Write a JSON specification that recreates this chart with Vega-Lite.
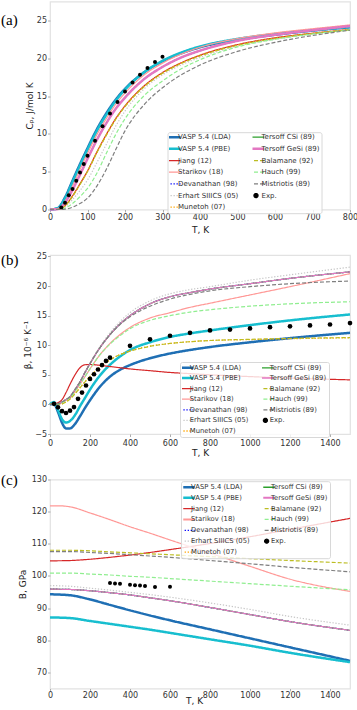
{
"$schema": "https://vega.github.io/schema/vega-lite/v6.json",
"padding": {"left": 0, "top": 0.5, "right": 0, "bottom": 0},
"spacing": 45.5,
"bounds": "flush",
"resolve": {"scale": {"color": "independent", "strokeDash": "independent"}, "legend": {"color": "independent", "strokeDash": "independent"}},
"config": {
  "font": "DejaVu Sans",
  "view": {"stroke": "#e2e2e2", "strokeWidth": 1.2},
  "axis": {"domain": false, "grid": false, "labelFont": "DejaVu Sans", "titleFont": "DejaVu Sans", "labelFontSize": 8, "labelColor": "#333333", "titleFontSize": 9, "titleFontWeight": "normal", "titleColor": "#222222", "tickColor": "#999999", "tickSize": 2.5, "tickWidth": 0.8, "labelPadding": 1, "titlePadding": 2.5, "labelOverlap": false, "labelFlush": false, "tickCount": 30},
  "legend": {"orient": "none", "columns": 2, "symbolType": "stroke", "symbolSize": 256, "symbolOffset": 0, "labelFont": "DejaVu Sans", "labelFontSize": 6.8, "labelColor": "#333333", "labelLimit": 200, "padding": 2, "fillColor": "rgba(255,255,255,0.8)", "strokeColor": "#d8d8d8", "cornerRadius": 2, "clipHeight": 6.8, "rowPadding": 2.6, "columnPadding": 13, "labelOffset": 1}
},
"datasets": {
"a": [
{"m":"VASP 5.4 (LDA)","T":0,"v":0},{"m":"VASP 5.4 (LDA)","T":20,"v":0.15},{"m":"VASP 5.4 (LDA)","T":40,"v":1.6},{"m":"VASP 5.4 (LDA)","T":60,"v":3.8},{"m":"VASP 5.4 (LDA)","T":80,"v":6.0},{"m":"VASP 5.4 (LDA)","T":100,"v":8.1},{"m":"VASP 5.4 (LDA)","T":125,"v":10.6},{"m":"VASP 5.4 (LDA)","T":150,"v":12.7},{"m":"VASP 5.4 (LDA)","T":175,"v":14.5},{"m":"VASP 5.4 (LDA)","T":200,"v":15.95},{"m":"VASP 5.4 (LDA)","T":250,"v":18.1},{"m":"VASP 5.4 (LDA)","T":300,"v":19.6},{"m":"VASP 5.4 (LDA)","T":350,"v":20.65},{"m":"VASP 5.4 (LDA)","T":400,"v":21.45},{"m":"VASP 5.4 (LDA)","T":500,"v":22.45},{"m":"VASP 5.4 (LDA)","T":600,"v":23.1},{"m":"VASP 5.4 (LDA)","T":700,"v":23.65},{"m":"VASP 5.4 (LDA)","T":800,"v":24.1},
{"m":"VASP 5.4 (PBE)","T":0,"v":0},{"m":"VASP 5.4 (PBE)","T":20,"v":0.15},{"m":"VASP 5.4 (PBE)","T":40,"v":1.45},{"m":"VASP 5.4 (PBE)","T":60,"v":3.6},{"m":"VASP 5.4 (PBE)","T":80,"v":5.8},{"m":"VASP 5.4 (PBE)","T":100,"v":7.9},{"m":"VASP 5.4 (PBE)","T":125,"v":10.4},{"m":"VASP 5.4 (PBE)","T":150,"v":12.5},{"m":"VASP 5.4 (PBE)","T":175,"v":14.35},{"m":"VASP 5.4 (PBE)","T":200,"v":15.85},{"m":"VASP 5.4 (PBE)","T":250,"v":18.1},{"m":"VASP 5.4 (PBE)","T":300,"v":19.65},{"m":"VASP 5.4 (PBE)","T":350,"v":20.75},{"m":"VASP 5.4 (PBE)","T":400,"v":21.55},{"m":"VASP 5.4 (PBE)","T":500,"v":22.55},{"m":"VASP 5.4 (PBE)","T":600,"v":23.2},{"m":"VASP 5.4 (PBE)","T":700,"v":23.7},{"m":"VASP 5.4 (PBE)","T":800,"v":24.15},
{"m":"Jiang (12)","T":0,"v":0},{"m":"Jiang (12)","T":20,"v":0.02},{"m":"Jiang (12)","T":40,"v":0.5},{"m":"Jiang (12)","T":60,"v":1.8},{"m":"Jiang (12)","T":80,"v":3.4},{"m":"Jiang (12)","T":100,"v":5.1},{"m":"Jiang (12)","T":125,"v":7.6},{"m":"Jiang (12)","T":150,"v":9.9},{"m":"Jiang (12)","T":175,"v":12.0},{"m":"Jiang (12)","T":200,"v":13.7},{"m":"Jiang (12)","T":250,"v":16.3},{"m":"Jiang (12)","T":300,"v":18.1},{"m":"Jiang (12)","T":350,"v":19.4},{"m":"Jiang (12)","T":400,"v":20.4},{"m":"Jiang (12)","T":500,"v":21.8},{"m":"Jiang (12)","T":600,"v":22.7},{"m":"Jiang (12)","T":700,"v":23.3},{"m":"Jiang (12)","T":800,"v":23.8},
{"m":"Starikov (18)","T":0,"v":0},{"m":"Starikov (18)","T":20,"v":0.05},{"m":"Starikov (18)","T":40,"v":1.1},{"m":"Starikov (18)","T":60,"v":3.1},{"m":"Starikov (18)","T":80,"v":5.3},{"m":"Starikov (18)","T":100,"v":7.4},{"m":"Starikov (18)","T":125,"v":9.9},{"m":"Starikov (18)","T":150,"v":12.0},{"m":"Starikov (18)","T":175,"v":13.9},{"m":"Starikov (18)","T":200,"v":15.4},{"m":"Starikov (18)","T":250,"v":17.75},{"m":"Starikov (18)","T":300,"v":19.35},{"m":"Starikov (18)","T":350,"v":20.55},{"m":"Starikov (18)","T":400,"v":21.45},{"m":"Starikov (18)","T":500,"v":22.6},{"m":"Starikov (18)","T":600,"v":23.35},{"m":"Starikov (18)","T":700,"v":23.9},{"m":"Starikov (18)","T":800,"v":24.4},
{"m":"Devanathan (98)","T":0,"v":0},{"m":"Devanathan (98)","T":20,"v":0.05},{"m":"Devanathan (98)","T":40,"v":0.9},{"m":"Devanathan (98)","T":60,"v":2.6},{"m":"Devanathan (98)","T":80,"v":4.6},{"m":"Devanathan (98)","T":100,"v":6.7},{"m":"Devanathan (98)","T":125,"v":9.2},{"m":"Devanathan (98)","T":150,"v":11.4},{"m":"Devanathan (98)","T":175,"v":13.3},{"m":"Devanathan (98)","T":200,"v":14.8},{"m":"Devanathan (98)","T":250,"v":17.2},{"m":"Devanathan (98)","T":300,"v":18.85},{"m":"Devanathan (98)","T":350,"v":20.1},{"m":"Devanathan (98)","T":400,"v":21.0},{"m":"Devanathan (98)","T":500,"v":22.3},{"m":"Devanathan (98)","T":600,"v":23.1},{"m":"Devanathan (98)","T":700,"v":23.7},{"m":"Devanathan (98)","T":800,"v":24.25},
{"m":"Erhart SIIICS (05)","T":0,"v":0},{"m":"Erhart SIIICS (05)","T":20,"v":0.01},{"m":"Erhart SIIICS (05)","T":40,"v":0.35},{"m":"Erhart SIIICS (05)","T":60,"v":1.3},{"m":"Erhart SIIICS (05)","T":80,"v":2.5},{"m":"Erhart SIIICS (05)","T":100,"v":3.9},{"m":"Erhart SIIICS (05)","T":125,"v":6.2},{"m":"Erhart SIIICS (05)","T":150,"v":8.6},{"m":"Erhart SIIICS (05)","T":175,"v":11.0},{"m":"Erhart SIIICS (05)","T":200,"v":13.0},{"m":"Erhart SIIICS (05)","T":250,"v":15.9},{"m":"Erhart SIIICS (05)","T":300,"v":17.8},{"m":"Erhart SIIICS (05)","T":350,"v":19.1},{"m":"Erhart SIIICS (05)","T":400,"v":20.1},{"m":"Erhart SIIICS (05)","T":500,"v":21.6},{"m":"Erhart SIIICS (05)","T":600,"v":22.5},{"m":"Erhart SIIICS (05)","T":700,"v":23.2},{"m":"Erhart SIIICS (05)","T":800,"v":23.8},
{"m":"Munetoh (07)","T":0,"v":0},{"m":"Munetoh (07)","T":20,"v":0.02},{"m":"Munetoh (07)","T":40,"v":0.5},{"m":"Munetoh (07)","T":60,"v":1.75},{"m":"Munetoh (07)","T":80,"v":3.35},{"m":"Munetoh (07)","T":100,"v":5.05},{"m":"Munetoh (07)","T":125,"v":7.55},{"m":"Munetoh (07)","T":150,"v":9.85},{"m":"Munetoh (07)","T":175,"v":11.95},{"m":"Munetoh (07)","T":200,"v":13.65},{"m":"Munetoh (07)","T":250,"v":16.25},{"m":"Munetoh (07)","T":300,"v":18.05},{"m":"Munetoh (07)","T":350,"v":19.35},{"m":"Munetoh (07)","T":400,"v":20.35},{"m":"Munetoh (07)","T":500,"v":21.75},{"m":"Munetoh (07)","T":600,"v":22.65},{"m":"Munetoh (07)","T":700,"v":23.3},{"m":"Munetoh (07)","T":800,"v":23.8},
{"m":"Tersoff CSi (89)","T":0,"v":0},{"m":"Tersoff CSi (89)","T":20,"v":0.05},{"m":"Tersoff CSi (89)","T":40,"v":0.9},{"m":"Tersoff CSi (89)","T":60,"v":2.6},{"m":"Tersoff CSi (89)","T":80,"v":4.6},{"m":"Tersoff CSi (89)","T":100,"v":6.7},{"m":"Tersoff CSi (89)","T":125,"v":9.2},{"m":"Tersoff CSi (89)","T":150,"v":11.4},{"m":"Tersoff CSi (89)","T":175,"v":13.3},{"m":"Tersoff CSi (89)","T":200,"v":14.8},{"m":"Tersoff CSi (89)","T":250,"v":17.2},{"m":"Tersoff CSi (89)","T":300,"v":18.85},{"m":"Tersoff CSi (89)","T":350,"v":20.1},{"m":"Tersoff CSi (89)","T":400,"v":21.0},{"m":"Tersoff CSi (89)","T":500,"v":22.3},{"m":"Tersoff CSi (89)","T":600,"v":23.1},{"m":"Tersoff CSi (89)","T":700,"v":23.7},{"m":"Tersoff CSi (89)","T":800,"v":24.25},
{"m":"Tersoff GeSi (89)","T":0,"v":0},{"m":"Tersoff GeSi (89)","T":20,"v":0.05},{"m":"Tersoff GeSi (89)","T":40,"v":0.9},{"m":"Tersoff GeSi (89)","T":60,"v":2.6},{"m":"Tersoff GeSi (89)","T":80,"v":4.6},{"m":"Tersoff GeSi (89)","T":100,"v":6.7},{"m":"Tersoff GeSi (89)","T":125,"v":9.2},{"m":"Tersoff GeSi (89)","T":150,"v":11.4},{"m":"Tersoff GeSi (89)","T":175,"v":13.3},{"m":"Tersoff GeSi (89)","T":200,"v":14.8},{"m":"Tersoff GeSi (89)","T":250,"v":17.2},{"m":"Tersoff GeSi (89)","T":300,"v":18.85},{"m":"Tersoff GeSi (89)","T":350,"v":20.1},{"m":"Tersoff GeSi (89)","T":400,"v":21.0},{"m":"Tersoff GeSi (89)","T":500,"v":22.3},{"m":"Tersoff GeSi (89)","T":600,"v":23.1},{"m":"Tersoff GeSi (89)","T":700,"v":23.7},{"m":"Tersoff GeSi (89)","T":800,"v":24.25},
{"m":"Balamane (92)","T":0,"v":0},{"m":"Balamane (92)","T":20,"v":0.02},{"m":"Balamane (92)","T":40,"v":0.45},{"m":"Balamane (92)","T":60,"v":1.7},{"m":"Balamane (92)","T":80,"v":3.3},{"m":"Balamane (92)","T":100,"v":5.0},{"m":"Balamane (92)","T":125,"v":7.5},{"m":"Balamane (92)","T":150,"v":9.8},{"m":"Balamane (92)","T":175,"v":11.9},{"m":"Balamane (92)","T":200,"v":13.6},{"m":"Balamane (92)","T":250,"v":16.2},{"m":"Balamane (92)","T":300,"v":18.0},{"m":"Balamane (92)","T":350,"v":19.3},{"m":"Balamane (92)","T":400,"v":20.3},{"m":"Balamane (92)","T":500,"v":21.7},{"m":"Balamane (92)","T":600,"v":22.6},{"m":"Balamane (92)","T":700,"v":23.25},{"m":"Balamane (92)","T":800,"v":23.75},
{"m":"Hauch (99)","T":0,"v":0},{"m":"Hauch (99)","T":20,"v":0},{"m":"Hauch (99)","T":40,"v":0.2},{"m":"Hauch (99)","T":60,"v":0.8},{"m":"Hauch (99)","T":80,"v":1.7},{"m":"Hauch (99)","T":100,"v":2.8},{"m":"Hauch (99)","T":125,"v":4.8},{"m":"Hauch (99)","T":150,"v":7.4},{"m":"Hauch (99)","T":175,"v":9.9},{"m":"Hauch (99)","T":200,"v":12.0},{"m":"Hauch (99)","T":250,"v":15.0},{"m":"Hauch (99)","T":300,"v":17.0},{"m":"Hauch (99)","T":350,"v":18.6},{"m":"Hauch (99)","T":400,"v":19.8},{"m":"Hauch (99)","T":500,"v":21.5},{"m":"Hauch (99)","T":600,"v":22.5},{"m":"Hauch (99)","T":700,"v":23.2},{"m":"Hauch (99)","T":800,"v":23.75},
{"m":"Mistriotis (89)","T":0,"v":0},{"m":"Mistriotis (89)","T":20,"v":0},{"m":"Mistriotis (89)","T":40,"v":0.05},{"m":"Mistriotis (89)","T":60,"v":0.3},{"m":"Mistriotis (89)","T":80,"v":0.8},{"m":"Mistriotis (89)","T":100,"v":1.5},{"m":"Mistriotis (89)","T":125,"v":3.1},{"m":"Mistriotis (89)","T":150,"v":5.3},{"m":"Mistriotis (89)","T":175,"v":7.9},{"m":"Mistriotis (89)","T":200,"v":10.4},{"m":"Mistriotis (89)","T":250,"v":13.8},{"m":"Mistriotis (89)","T":300,"v":16.1},{"m":"Mistriotis (89)","T":350,"v":17.8},{"m":"Mistriotis (89)","T":400,"v":19.1},{"m":"Mistriotis (89)","T":500,"v":20.9},{"m":"Mistriotis (89)","T":600,"v":22.1},{"m":"Mistriotis (89)","T":700,"v":23.0},{"m":"Mistriotis (89)","T":800,"v":23.7},
{"m":"Exp.","T":30,"v":0.25},{"m":"Exp.","T":40,"v":0.9},{"m":"Exp.","T":50,"v":1.9},{"m":"Exp.","T":60,"v":2.7},{"m":"Exp.","T":70,"v":3.8},{"m":"Exp.","T":80,"v":4.9},{"m":"Exp.","T":90,"v":6.0},{"m":"Exp.","T":100,"v":7.1},{"m":"Exp.","T":120,"v":9.1},{"m":"Exp.","T":140,"v":11.0},{"m":"Exp.","T":160,"v":12.7},{"m":"Exp.","T":180,"v":14.2},{"m":"Exp.","T":200,"v":15.6},{"m":"Exp.","T":220,"v":16.8},{"m":"Exp.","T":240,"v":17.8},{"m":"Exp.","T":260,"v":18.7},{"m":"Exp.","T":280,"v":19.5},{"m":"Exp.","T":300,"v":20.2}
],
"b": [
{"m":"VASP 5.4 (LDA)","T":0,"v":0},{"m":"VASP 5.4 (LDA)","T":20,"v":0.1},{"m":"VASP 5.4 (LDA)","T":40,"v":-1.3},{"m":"VASP 5.4 (LDA)","T":60,"v":-3.1},{"m":"VASP 5.4 (LDA)","T":80,"v":-4.05},{"m":"VASP 5.4 (LDA)","T":100,"v":-4.05},{"m":"VASP 5.4 (LDA)","T":125,"v":-3.3},{"m":"VASP 5.4 (LDA)","T":150,"v":-2.0},{"m":"VASP 5.4 (LDA)","T":175,"v":-0.6},{"m":"VASP 5.4 (LDA)","T":200,"v":0.7},{"m":"VASP 5.4 (LDA)","T":250,"v":3.0},{"m":"VASP 5.4 (LDA)","T":300,"v":4.7},{"m":"VASP 5.4 (LDA)","T":350,"v":5.85},{"m":"VASP 5.4 (LDA)","T":400,"v":6.65},{"m":"VASP 5.4 (LDA)","T":500,"v":7.8},{"m":"VASP 5.4 (LDA)","T":600,"v":8.6},{"m":"VASP 5.4 (LDA)","T":700,"v":9.2},{"m":"VASP 5.4 (LDA)","T":800,"v":9.7},{"m":"VASP 5.4 (LDA)","T":1000,"v":10.5},{"m":"VASP 5.4 (LDA)","T":1200,"v":11.2},{"m":"VASP 5.4 (LDA)","T":1500,"v":12.1},
{"m":"VASP 5.4 (PBE)","T":0,"v":0},{"m":"VASP 5.4 (PBE)","T":20,"v":0.4},{"m":"VASP 5.4 (PBE)","T":40,"v":-0.9},{"m":"VASP 5.4 (PBE)","T":60,"v":-2.5},{"m":"VASP 5.4 (PBE)","T":80,"v":-3.05},{"m":"VASP 5.4 (PBE)","T":100,"v":-2.8},{"m":"VASP 5.4 (PBE)","T":125,"v":-1.8},{"m":"VASP 5.4 (PBE)","T":150,"v":-0.3},{"m":"VASP 5.4 (PBE)","T":175,"v":1.1},{"m":"VASP 5.4 (PBE)","T":200,"v":2.5},{"m":"VASP 5.4 (PBE)","T":250,"v":4.9},{"m":"VASP 5.4 (PBE)","T":300,"v":6.7},{"m":"VASP 5.4 (PBE)","T":350,"v":8.1},{"m":"VASP 5.4 (PBE)","T":400,"v":9.2},{"m":"VASP 5.4 (PBE)","T":500,"v":10.5},{"m":"VASP 5.4 (PBE)","T":600,"v":11.4},{"m":"VASP 5.4 (PBE)","T":700,"v":12.0},{"m":"VASP 5.4 (PBE)","T":800,"v":12.5},{"m":"VASP 5.4 (PBE)","T":1000,"v":13.4},{"m":"VASP 5.4 (PBE)","T":1200,"v":14.2},{"m":"VASP 5.4 (PBE)","T":1500,"v":15.2},
{"m":"Jiang (12)","T":0,"v":0},{"m":"Jiang (12)","T":20,"v":0.1},{"m":"Jiang (12)","T":40,"v":0.3},{"m":"Jiang (12)","T":60,"v":0.8},{"m":"Jiang (12)","T":80,"v":2.0},{"m":"Jiang (12)","T":100,"v":3.4},{"m":"Jiang (12)","T":125,"v":5.0},{"m":"Jiang (12)","T":150,"v":6.2},{"m":"Jiang (12)","T":175,"v":6.7},{"m":"Jiang (12)","T":200,"v":6.75},{"m":"Jiang (12)","T":250,"v":6.6},{"m":"Jiang (12)","T":300,"v":6.4},{"m":"Jiang (12)","T":350,"v":6.2},{"m":"Jiang (12)","T":400,"v":6.0},{"m":"Jiang (12)","T":500,"v":5.7},{"m":"Jiang (12)","T":600,"v":5.4},{"m":"Jiang (12)","T":700,"v":5.2},{"m":"Jiang (12)","T":800,"v":5.0},{"m":"Jiang (12)","T":1000,"v":4.7},{"m":"Jiang (12)","T":1200,"v":4.45},{"m":"Jiang (12)","T":1500,"v":4.15},
{"m":"Starikov (18)","T":0,"v":0},{"m":"Starikov (18)","T":20,"v":0},{"m":"Starikov (18)","T":40,"v":0.05},{"m":"Starikov (18)","T":60,"v":0.3},{"m":"Starikov (18)","T":80,"v":0.7},{"m":"Starikov (18)","T":100,"v":1.1},{"m":"Starikov (18)","T":125,"v":2.2},{"m":"Starikov (18)","T":150,"v":3.4},{"m":"Starikov (18)","T":175,"v":4.7},{"m":"Starikov (18)","T":200,"v":6.0},{"m":"Starikov (18)","T":250,"v":8.4},{"m":"Starikov (18)","T":300,"v":10.3},{"m":"Starikov (18)","T":350,"v":11.8},{"m":"Starikov (18)","T":400,"v":13.0},{"m":"Starikov (18)","T":500,"v":14.6},{"m":"Starikov (18)","T":600,"v":15.5},{"m":"Starikov (18)","T":700,"v":16.4},{"m":"Starikov (18)","T":800,"v":17.1},{"m":"Starikov (18)","T":1000,"v":18.5},{"m":"Starikov (18)","T":1200,"v":19.9},{"m":"Starikov (18)","T":1500,"v":22.1},
{"m":"Devanathan (98)","T":0,"v":0},{"m":"Devanathan (98)","T":20,"v":0},{"m":"Devanathan (98)","T":40,"v":0.1},{"m":"Devanathan (98)","T":60,"v":0.4},{"m":"Devanathan (98)","T":80,"v":0.8},{"m":"Devanathan (98)","T":100,"v":1.3},{"m":"Devanathan (98)","T":125,"v":2.5},{"m":"Devanathan (98)","T":150,"v":3.8},{"m":"Devanathan (98)","T":175,"v":5.4},{"m":"Devanathan (98)","T":200,"v":6.9},{"m":"Devanathan (98)","T":250,"v":9.6},{"m":"Devanathan (98)","T":300,"v":11.8},{"m":"Devanathan (98)","T":350,"v":13.6},{"m":"Devanathan (98)","T":400,"v":15.0},{"m":"Devanathan (98)","T":500,"v":17.0},{"m":"Devanathan (98)","T":600,"v":18.2},{"m":"Devanathan (98)","T":700,"v":18.9},{"m":"Devanathan (98)","T":800,"v":19.5},{"m":"Devanathan (98)","T":1000,"v":20.4},{"m":"Devanathan (98)","T":1200,"v":21.3},{"m":"Devanathan (98)","T":1500,"v":22.4},
{"m":"Erhart SIIICS (05)","T":0,"v":0},{"m":"Erhart SIIICS (05)","T":20,"v":0},{"m":"Erhart SIIICS (05)","T":40,"v":0.1},{"m":"Erhart SIIICS (05)","T":60,"v":0.4},{"m":"Erhart SIIICS (05)","T":80,"v":0.8},{"m":"Erhart SIIICS (05)","T":100,"v":1.3},{"m":"Erhart SIIICS (05)","T":125,"v":2.5},{"m":"Erhart SIIICS (05)","T":150,"v":3.9},{"m":"Erhart SIIICS (05)","T":175,"v":5.5},{"m":"Erhart SIIICS (05)","T":200,"v":7.0},{"m":"Erhart SIIICS (05)","T":250,"v":9.8},{"m":"Erhart SIIICS (05)","T":300,"v":12.1},{"m":"Erhart SIIICS (05)","T":350,"v":14.0},{"m":"Erhart SIIICS (05)","T":400,"v":15.5},{"m":"Erhart SIIICS (05)","T":500,"v":17.5},{"m":"Erhart SIIICS (05)","T":600,"v":18.7},{"m":"Erhart SIIICS (05)","T":700,"v":19.4},{"m":"Erhart SIIICS (05)","T":800,"v":19.9},{"m":"Erhart SIIICS (05)","T":1000,"v":21.0},{"m":"Erhart SIIICS (05)","T":1200,"v":21.9},{"m":"Erhart SIIICS (05)","T":1500,"v":23.2},
{"m":"Munetoh (07)","T":0,"v":0},{"m":"Munetoh (07)","T":20,"v":0},{"m":"Munetoh (07)","T":40,"v":0},{"m":"Munetoh (07)","T":60,"v":0.1},{"m":"Munetoh (07)","T":80,"v":0.45},{"m":"Munetoh (07)","T":100,"v":0.95},{"m":"Munetoh (07)","T":125,"v":1.85},{"m":"Munetoh (07)","T":150,"v":2.85},{"m":"Munetoh (07)","T":175,"v":3.85},{"m":"Munetoh (07)","T":200,"v":4.75},{"m":"Munetoh (07)","T":250,"v":6.35},{"m":"Munetoh (07)","T":300,"v":7.55},{"m":"Munetoh (07)","T":350,"v":8.45},{"m":"Munetoh (07)","T":400,"v":9.05},{"m":"Munetoh (07)","T":500,"v":9.85},{"m":"Munetoh (07)","T":600,"v":10.3},{"m":"Munetoh (07)","T":700,"v":10.6},{"m":"Munetoh (07)","T":800,"v":10.8},{"m":"Munetoh (07)","T":1000,"v":10.95},{"m":"Munetoh (07)","T":1200,"v":11.1},{"m":"Munetoh (07)","T":1500,"v":11.25},
{"m":"Tersoff CSi (89)","T":0,"v":0},{"m":"Tersoff CSi (89)","T":20,"v":0},{"m":"Tersoff CSi (89)","T":40,"v":0.1},{"m":"Tersoff CSi (89)","T":60,"v":0.4},{"m":"Tersoff CSi (89)","T":80,"v":0.8},{"m":"Tersoff CSi (89)","T":100,"v":1.3},{"m":"Tersoff CSi (89)","T":125,"v":2.5},{"m":"Tersoff CSi (89)","T":150,"v":3.8},{"m":"Tersoff CSi (89)","T":175,"v":5.4},{"m":"Tersoff CSi (89)","T":200,"v":6.9},{"m":"Tersoff CSi (89)","T":250,"v":9.6},{"m":"Tersoff CSi (89)","T":300,"v":11.8},{"m":"Tersoff CSi (89)","T":350,"v":13.6},{"m":"Tersoff CSi (89)","T":400,"v":15.0},{"m":"Tersoff CSi (89)","T":500,"v":17.0},{"m":"Tersoff CSi (89)","T":600,"v":18.2},{"m":"Tersoff CSi (89)","T":700,"v":18.9},{"m":"Tersoff CSi (89)","T":800,"v":19.5},{"m":"Tersoff CSi (89)","T":1000,"v":20.4},{"m":"Tersoff CSi (89)","T":1200,"v":21.3},{"m":"Tersoff CSi (89)","T":1500,"v":22.4},
{"m":"Tersoff GeSi (89)","T":0,"v":0},{"m":"Tersoff GeSi (89)","T":20,"v":0},{"m":"Tersoff GeSi (89)","T":40,"v":0.1},{"m":"Tersoff GeSi (89)","T":60,"v":0.4},{"m":"Tersoff GeSi (89)","T":80,"v":0.8},{"m":"Tersoff GeSi (89)","T":100,"v":1.3},{"m":"Tersoff GeSi (89)","T":125,"v":2.5},{"m":"Tersoff GeSi (89)","T":150,"v":3.8},{"m":"Tersoff GeSi (89)","T":175,"v":5.4},{"m":"Tersoff GeSi (89)","T":200,"v":6.9},{"m":"Tersoff GeSi (89)","T":250,"v":9.6},{"m":"Tersoff GeSi (89)","T":300,"v":11.8},{"m":"Tersoff GeSi (89)","T":350,"v":13.6},{"m":"Tersoff GeSi (89)","T":400,"v":15.0},{"m":"Tersoff GeSi (89)","T":500,"v":17.0},{"m":"Tersoff GeSi (89)","T":600,"v":18.2},{"m":"Tersoff GeSi (89)","T":700,"v":18.9},{"m":"Tersoff GeSi (89)","T":800,"v":19.5},{"m":"Tersoff GeSi (89)","T":1000,"v":20.4},{"m":"Tersoff GeSi (89)","T":1200,"v":21.3},{"m":"Tersoff GeSi (89)","T":1500,"v":22.4},
{"m":"Balamane (92)","T":0,"v":0},{"m":"Balamane (92)","T":20,"v":0},{"m":"Balamane (92)","T":40,"v":0},{"m":"Balamane (92)","T":60,"v":0.1},{"m":"Balamane (92)","T":80,"v":0.4},{"m":"Balamane (92)","T":100,"v":0.9},{"m":"Balamane (92)","T":125,"v":1.8},{"m":"Balamane (92)","T":150,"v":2.8},{"m":"Balamane (92)","T":175,"v":3.8},{"m":"Balamane (92)","T":200,"v":4.7},{"m":"Balamane (92)","T":250,"v":6.3},{"m":"Balamane (92)","T":300,"v":7.5},{"m":"Balamane (92)","T":350,"v":8.4},{"m":"Balamane (92)","T":400,"v":9.0},{"m":"Balamane (92)","T":500,"v":9.8},{"m":"Balamane (92)","T":600,"v":10.3},{"m":"Balamane (92)","T":700,"v":10.6},{"m":"Balamane (92)","T":800,"v":10.8},{"m":"Balamane (92)","T":1000,"v":11.0},{"m":"Balamane (92)","T":1200,"v":11.15},{"m":"Balamane (92)","T":1500,"v":11.3},
{"m":"Hauch (99)","T":0,"v":0},{"m":"Hauch (99)","T":20,"v":0},{"m":"Hauch (99)","T":40,"v":0.05},{"m":"Hauch (99)","T":60,"v":0.3},{"m":"Hauch (99)","T":80,"v":0.7},{"m":"Hauch (99)","T":100,"v":1.1},{"m":"Hauch (99)","T":125,"v":2.2},{"m":"Hauch (99)","T":150,"v":3.4},{"m":"Hauch (99)","T":175,"v":4.7},{"m":"Hauch (99)","T":200,"v":6.0},{"m":"Hauch (99)","T":250,"v":8.4},{"m":"Hauch (99)","T":300,"v":10.2},{"m":"Hauch (99)","T":350,"v":11.6},{"m":"Hauch (99)","T":400,"v":12.8},{"m":"Hauch (99)","T":500,"v":14.2},{"m":"Hauch (99)","T":600,"v":15.0},{"m":"Hauch (99)","T":700,"v":15.6},{"m":"Hauch (99)","T":800,"v":16.0},{"m":"Hauch (99)","T":1000,"v":16.6},{"m":"Hauch (99)","T":1200,"v":17.0},{"m":"Hauch (99)","T":1500,"v":17.35},
{"m":"Mistriotis (89)","T":0,"v":0},{"m":"Mistriotis (89)","T":20,"v":0},{"m":"Mistriotis (89)","T":40,"v":0.1},{"m":"Mistriotis (89)","T":60,"v":0.4},{"m":"Mistriotis (89)","T":80,"v":0.8},{"m":"Mistriotis (89)","T":100,"v":1.3},{"m":"Mistriotis (89)","T":125,"v":2.5},{"m":"Mistriotis (89)","T":150,"v":3.8},{"m":"Mistriotis (89)","T":175,"v":5.4},{"m":"Mistriotis (89)","T":200,"v":6.9},{"m":"Mistriotis (89)","T":250,"v":9.6},{"m":"Mistriotis (89)","T":300,"v":11.8},{"m":"Mistriotis (89)","T":350,"v":13.5},{"m":"Mistriotis (89)","T":400,"v":14.8},{"m":"Mistriotis (89)","T":500,"v":16.6},{"m":"Mistriotis (89)","T":600,"v":17.8},{"m":"Mistriotis (89)","T":700,"v":18.6},{"m":"Mistriotis (89)","T":800,"v":19.2},{"m":"Mistriotis (89)","T":1000,"v":19.9},{"m":"Mistriotis (89)","T":1200,"v":20.4},{"m":"Mistriotis (89)","T":1500,"v":20.85},
{"m":"Exp.","T":20,"v":0.1},{"m":"Exp.","T":40,"v":-0.5},{"m":"Exp.","T":60,"v":-1.15},{"m":"Exp.","T":80,"v":-1.45},{"m":"Exp.","T":100,"v":-1.05},{"m":"Exp.","T":120,"v":-0.45},{"m":"Exp.","T":140,"v":0.95},{"m":"Exp.","T":160,"v":2.0},{"m":"Exp.","T":180,"v":3.2},{"m":"Exp.","T":200,"v":4.3},{"m":"Exp.","T":220,"v":5.1},{"m":"Exp.","T":240,"v":5.9},{"m":"Exp.","T":260,"v":6.65},{"m":"Exp.","T":280,"v":7.35},{"m":"Exp.","T":300,"v":7.9},{"m":"Exp.","T":400,"v":9.9},{"m":"Exp.","T":500,"v":11.0},{"m":"Exp.","T":600,"v":11.6},{"m":"Exp.","T":700,"v":12.1},{"m":"Exp.","T":800,"v":12.5},{"m":"Exp.","T":900,"v":12.65},{"m":"Exp.","T":1000,"v":12.85},{"m":"Exp.","T":1100,"v":13.05},{"m":"Exp.","T":1200,"v":13.2},{"m":"Exp.","T":1300,"v":13.35},{"m":"Exp.","T":1400,"v":13.5},{"m":"Exp.","T":1500,"v":13.75}
],
"c": [
{"m":"VASP 5.4 (LDA)","T":0,"v":94.3},{"m":"VASP 5.4 (LDA)","T":100,"v":94.0},{"m":"VASP 5.4 (LDA)","T":200,"v":92.7},{"m":"VASP 5.4 (LDA)","T":300,"v":91.0},{"m":"VASP 5.4 (LDA)","T":400,"v":89.3},{"m":"VASP 5.4 (LDA)","T":500,"v":87.7},{"m":"VASP 5.4 (LDA)","T":600,"v":86.2},{"m":"VASP 5.4 (LDA)","T":800,"v":83.4},{"m":"VASP 5.4 (LDA)","T":1000,"v":80.6},{"m":"VASP 5.4 (LDA)","T":1200,"v":77.8},{"m":"VASP 5.4 (LDA)","T":1500,"v":73.6},
{"m":"VASP 5.4 (PBE)","T":0,"v":87.1},{"m":"VASP 5.4 (PBE)","T":100,"v":86.9},{"m":"VASP 5.4 (PBE)","T":200,"v":86.0},{"m":"VASP 5.4 (PBE)","T":300,"v":85.1},{"m":"VASP 5.4 (PBE)","T":400,"v":84.2},{"m":"VASP 5.4 (PBE)","T":500,"v":83.3},{"m":"VASP 5.4 (PBE)","T":600,"v":82.3},{"m":"VASP 5.4 (PBE)","T":800,"v":80.3},{"m":"VASP 5.4 (PBE)","T":1000,"v":78.3},{"m":"VASP 5.4 (PBE)","T":1200,"v":76.1},{"m":"VASP 5.4 (PBE)","T":1500,"v":73.2},
{"m":"Jiang (12)","T":0,"v":104.7},{"m":"Jiang (12)","T":100,"v":104.8},{"m":"Jiang (12)","T":200,"v":105.2},{"m":"Jiang (12)","T":300,"v":105.8},{"m":"Jiang (12)","T":400,"v":106.5},{"m":"Jiang (12)","T":500,"v":107.3},{"m":"Jiang (12)","T":600,"v":108.2},{"m":"Jiang (12)","T":800,"v":110.1},{"m":"Jiang (12)","T":1000,"v":112.2},{"m":"Jiang (12)","T":1200,"v":114.5},{"m":"Jiang (12)","T":1500,"v":117.9},
{"m":"Starikov (18)","T":0,"v":121.8},{"m":"Starikov (18)","T":50,"v":121.8},{"m":"Starikov (18)","T":100,"v":121.5},{"m":"Starikov (18)","T":200,"v":119.6},{"m":"Starikov (18)","T":300,"v":117.5},{"m":"Starikov (18)","T":400,"v":115.3},{"m":"Starikov (18)","T":500,"v":113.3},{"m":"Starikov (18)","T":600,"v":111.2},{"m":"Starikov (18)","T":800,"v":107.1},{"m":"Starikov (18)","T":1000,"v":103.0},{"m":"Starikov (18)","T":1200,"v":99.0},{"m":"Starikov (18)","T":1500,"v":95.2},
{"m":"Devanathan (98)","T":0,"v":95.9},{"m":"Devanathan (98)","T":100,"v":95.8},{"m":"Devanathan (98)","T":200,"v":95.4},{"m":"Devanathan (98)","T":300,"v":94.8},{"m":"Devanathan (98)","T":400,"v":94.1},{"m":"Devanathan (98)","T":500,"v":93.2},{"m":"Devanathan (98)","T":600,"v":92.3},{"m":"Devanathan (98)","T":800,"v":90.2},{"m":"Devanathan (98)","T":1000,"v":88.0},{"m":"Devanathan (98)","T":1200,"v":85.8},{"m":"Devanathan (98)","T":1500,"v":83.1},
{"m":"Erhart SIIICS (05)","T":0,"v":97.0},{"m":"Erhart SIIICS (05)","T":100,"v":96.8},{"m":"Erhart SIIICS (05)","T":200,"v":96.2},{"m":"Erhart SIIICS (05)","T":300,"v":95.6},{"m":"Erhart SIIICS (05)","T":400,"v":94.9},{"m":"Erhart SIIICS (05)","T":500,"v":94.2},{"m":"Erhart SIIICS (05)","T":600,"v":93.4},{"m":"Erhart SIIICS (05)","T":800,"v":91.6},{"m":"Erhart SIIICS (05)","T":1000,"v":89.6},{"m":"Erhart SIIICS (05)","T":1200,"v":87.4},{"m":"Erhart SIIICS (05)","T":1500,"v":84.7},
{"m":"Tersoff CSi (89)","T":0,"v":95.9},{"m":"Tersoff CSi (89)","T":100,"v":95.8},{"m":"Tersoff CSi (89)","T":200,"v":95.4},{"m":"Tersoff CSi (89)","T":300,"v":94.8},{"m":"Tersoff CSi (89)","T":400,"v":94.1},{"m":"Tersoff CSi (89)","T":500,"v":93.2},{"m":"Tersoff CSi (89)","T":600,"v":92.3},{"m":"Tersoff CSi (89)","T":800,"v":90.2},{"m":"Tersoff CSi (89)","T":1000,"v":88.0},{"m":"Tersoff CSi (89)","T":1200,"v":85.8},{"m":"Tersoff CSi (89)","T":1500,"v":83.1},
{"m":"Tersoff GeSi (89)","T":0,"v":95.9},{"m":"Tersoff GeSi (89)","T":100,"v":95.8},{"m":"Tersoff GeSi (89)","T":200,"v":95.4},{"m":"Tersoff GeSi (89)","T":300,"v":94.8},{"m":"Tersoff GeSi (89)","T":400,"v":94.1},{"m":"Tersoff GeSi (89)","T":500,"v":93.2},{"m":"Tersoff GeSi (89)","T":600,"v":92.3},{"m":"Tersoff GeSi (89)","T":800,"v":90.2},{"m":"Tersoff GeSi (89)","T":1000,"v":88.0},{"m":"Tersoff GeSi (89)","T":1200,"v":85.8},{"m":"Tersoff GeSi (89)","T":1500,"v":83.1},
{"m":"Balamane (92)","T":0,"v":108.0},{"m":"Balamane (92)","T":100,"v":108.0},{"m":"Balamane (92)","T":200,"v":107.8},{"m":"Balamane (92)","T":300,"v":107.5},{"m":"Balamane (92)","T":400,"v":107.2},{"m":"Balamane (92)","T":500,"v":106.9},{"m":"Balamane (92)","T":600,"v":106.6},{"m":"Balamane (92)","T":800,"v":106.0},{"m":"Balamane (92)","T":1000,"v":105.4},{"m":"Balamane (92)","T":1200,"v":104.8},{"m":"Balamane (92)","T":1500,"v":104.0},
{"m":"Hauch (99)","T":0,"v":100.9},{"m":"Hauch (99)","T":100,"v":100.9},{"m":"Hauch (99)","T":200,"v":100.6},{"m":"Hauch (99)","T":300,"v":100.3},{"m":"Hauch (99)","T":400,"v":99.9},{"m":"Hauch (99)","T":500,"v":99.6},{"m":"Hauch (99)","T":600,"v":99.2},{"m":"Hauch (99)","T":800,"v":98.4},{"m":"Hauch (99)","T":1000,"v":97.6},{"m":"Hauch (99)","T":1200,"v":96.8},{"m":"Hauch (99)","T":1500,"v":95.7},
{"m":"Mistriotis (89)","T":0,"v":107.6},{"m":"Mistriotis (89)","T":100,"v":107.6},{"m":"Mistriotis (89)","T":200,"v":107.3},{"m":"Mistriotis (89)","T":300,"v":107.0},{"m":"Mistriotis (89)","T":400,"v":106.6},{"m":"Mistriotis (89)","T":500,"v":106.2},{"m":"Mistriotis (89)","T":600,"v":105.8},{"m":"Mistriotis (89)","T":800,"v":104.8},{"m":"Mistriotis (89)","T":1000,"v":103.8},{"m":"Mistriotis (89)","T":1200,"v":102.7},{"m":"Mistriotis (89)","T":1500,"v":101.3},
{"m":"Exp.","T":300,"v":97.8},{"m":"Exp.","T":325,"v":97.65},{"m":"Exp.","T":350,"v":97.55},{"m":"Exp.","T":400,"v":97.25},{"m":"Exp.","T":425,"v":97.15},{"m":"Exp.","T":450,"v":97.05},{"m":"Exp.","T":475,"v":96.9},{"m":"Exp.","T":525,"v":96.55},{"m":"Exp.","T":600,"v":96.65}
]
},
"vconcat": [
{
  "title": {"text": "(a)", "anchor": "start", "frame": "group", "orient": "top", "font": "Liberation Serif", "fontSize": 15, "fontWeight": "normal", "color": "#000000", "baseline": "middle", "offset": 0, "dx": -49, "dy": 33},
  "width": 300, "height": 208,
  "data": {"name": "a"},
  "layer": [
    {"transform": [{"filter": "datum.m !== 'Exp.'"}],
     "mark": {"type": "line", "interpolate": "monotone"},
     "encoding": {
       "x": {"field": "T", "type": "quantitative", "scale": {"domain": [0, 800], "nice": false}, "axis": {"values": [0,100,200,300,400,500,600,700,800], "tickCount": 30, "format": "d", "labelOverlap": false, "title": "T, K", "labelPadding": 1.3, "titlePadding": 4}},
       "y": {"field": "v", "type": "quantitative", "scale": {"domain": [0, 27.5], "nice": false, "zero": false}, "axis": {"values": [0,5,10,15,20,25], "tickCount": 30, "format": "d", "labelOverlap": false, "title": "Cₚ, J/mol K", "titlePadding": 2}},
       "color": {"field": "m", "type": "nominal",
         "scale": {"domain": ["VASP 5.4 (LDA)","VASP 5.4 (PBE)","Jiang (12)","Starikov (18)","Devanathan (98)","Erhart SIIICS (05)","Munetoh (07)","Tersoff CSi (89)","Tersoff GeSi (89)","Balamane (92)","Hauch (99)","Mistriotis (89)","Exp."],
                   "range": ["#1f6fb4","#17becf","#d62728","#ff9896","#0000ff","#c7c7c7","#ffa500","#2ca02c","#e377c2","#bcbd22","#90ee90","#7f7f7f","#000000"]},
         "legend": {"title": null, "legendX": 117.5, "legendY": 130.7, "labelFontSize": 7, "clipHeight": 7, "rowPadding": 3.67, "padding": 1.5, "labelOffset": 2, "columnPadding": 13.5,
           "encode": {"symbols": {"update": {
             "shape": {"signal": "datum.value === 'Exp.' ? 'circle' : 'stroke'"},
             "size": {"signal": "datum.value === 'Exp.' ? 16 : 256"},
             "fill": {"signal": "datum.value === 'Exp.' ? '#000000' : 'transparent'"},
             "strokeWidth": {"signal": "indexof(['VASP 5.4 (LDA)','VASP 5.4 (PBE)','Tersoff GeSi (89)'], datum.value) >= 0 ? 2.5 : 1.3"}}}}}},
       "strokeDash": {"field": "m", "type": "nominal",
         "scale": {"domain": ["VASP 5.4 (LDA)","VASP 5.4 (PBE)","Jiang (12)","Starikov (18)","Devanathan (98)","Erhart SIIICS (05)","Munetoh (07)","Tersoff CSi (89)","Tersoff GeSi (89)","Balamane (92)","Hauch (99)","Mistriotis (89)","Exp."],
                   "range": [[1,0],[1,0],[1,0],[1,0],[1.3,1.7],[1.3,1.7],[1.3,1.7],[1,0],[1,0],[4,2],[4,2],[4,2],[1,0]]},
         "legend": {"title": null}},
       "strokeWidth": {"condition": {"test": "indexof(['VASP 5.4 (LDA)','VASP 5.4 (PBE)','Tersoff GeSi (89)'], datum.m) >= 0", "value": 2.5}, "value": 1.2}
     }},
    {"transform": [{"filter": "datum.m === 'Exp.'"}],
     "mark": {"type": "circle", "color": "#000000", "size": 16, "opacity": 1},
     "encoding": {"x": {"field": "T", "type": "quantitative"}, "y": {"field": "v", "type": "quantitative"}}}
  ]
},
{
  "title": {"text": "(b)", "anchor": "start", "frame": "group", "orient": "top", "font": "Liberation Serif", "fontSize": 15, "fontWeight": "normal", "color": "#000000", "baseline": "middle", "offset": 0, "dx": -49, "dy": 23},
  "width": 300, "height": 179,
  "data": {"name": "b"},
  "layer": [
    {"transform": [{"filter": "datum.m !== 'Exp.'"}],
     "mark": {"type": "line", "interpolate": "monotone"},
     "encoding": {
       "x": {"field": "T", "type": "quantitative", "scale": {"domain": [0, 1500], "nice": false}, "axis": {"values": [0,200,400,600,800,1000,1200,1400], "tickCount": 30, "format": "d", "labelOverlap": false, "title": "T, K", "labelPadding": 2.8, "titlePadding": 1.5}},
       "y": {"field": "v", "type": "quantitative", "scale": {"domain": [-5, 25.25], "nice": false, "zero": false}, "axis": {"values": [-5,0,5,10,15,20,25], "tickCount": 30, "format": "d", "labelOverlap": false, "title": "β, 10⁻⁶ K⁻¹", "titlePadding": 2}},
       "color": {"field": "m", "type": "nominal",
         "scale": {"domain": ["VASP 5.4 (LDA)","VASP 5.4 (PBE)","Jiang (12)","Starikov (18)","Devanathan (98)","Erhart SIIICS (05)","Munetoh (07)","Tersoff CSi (89)","Tersoff GeSi (89)","Balamane (92)","Hauch (99)","Mistriotis (89)","Exp."],
                   "range": ["#1f6fb4","#17becf","#d62728","#ff9896","#0000ff","#c7c7c7","#ffa500","#2ca02c","#e377c2","#bcbd22","#90ee90","#7f7f7f","#000000"]},
         "legend": {"title": null, "legendX": 130, "legendY": 107,
           "encode": {"symbols": {"update": {
             "shape": {"signal": "datum.value === 'Exp.' ? 'circle' : 'stroke'"},
             "size": {"signal": "datum.value === 'Exp.' ? 16 : 256"},
             "fill": {"signal": "datum.value === 'Exp.' ? '#000000' : 'transparent'"},
             "strokeWidth": {"signal": "indexof(['VASP 5.4 (LDA)','VASP 5.4 (PBE)'], datum.value) >= 0 ? 2.5 : 1.3"}}}}}},
       "strokeDash": {"field": "m", "type": "nominal",
         "scale": {"domain": ["VASP 5.4 (LDA)","VASP 5.4 (PBE)","Jiang (12)","Starikov (18)","Devanathan (98)","Erhart SIIICS (05)","Munetoh (07)","Tersoff CSi (89)","Tersoff GeSi (89)","Balamane (92)","Hauch (99)","Mistriotis (89)","Exp."],
                   "range": [[1,0],[1,0],[1,0],[1,0],[1.3,1.7],[1.3,1.7],[1.3,1.7],[1,0],[1,0],[4,2],[4,2],[4,2],[1,0]]},
         "legend": {"title": null}},
       "strokeWidth": {"condition": {"test": "indexof(['VASP 5.4 (LDA)','VASP 5.4 (PBE)'], datum.m) >= 0", "value": 2.5}, "value": 1.2}
     }},
    {"transform": [{"filter": "datum.m === 'Exp.'"}],
     "mark": {"type": "circle", "color": "#000000", "size": 22, "opacity": 1},
     "encoding": {"x": {"field": "T", "type": "quantitative"}, "y": {"field": "v", "type": "quantitative"}}}
  ]
},
{
  "title": {"text": "(c)", "anchor": "start", "frame": "group", "orient": "top", "font": "Liberation Serif", "fontSize": 15, "fontWeight": "normal", "color": "#000000", "baseline": "middle", "offset": 0, "dx": -49, "dy": 19.5},
  "width": 300, "height": 209,
  "data": {"name": "c"},
  "layer": [
    {"transform": [{"filter": "datum.m !== 'Exp.'"}],
     "mark": {"type": "line", "interpolate": "monotone"},
     "encoding": {
       "x": {"field": "T", "type": "quantitative", "scale": {"domain": [0, 1500], "nice": false}, "axis": {"values": [0,200,400,600,800,1000,1200,1400], "tickCount": 30, "format": "d", "labelOverlap": false, "title": "T, K", "titleX": 144, "labelPadding": 0, "titlePadding": -3}},
       "y": {"field": "v", "type": "quantitative", "scale": {"domain": [65, 130], "nice": false, "zero": false}, "axis": {"values": [70,80,90,100,110,120,130], "tickCount": 30, "format": "d", "labelOverlap": false, "title": "B, GPa", "titlePadding": 4}},
       "color": {"field": "m", "type": "nominal",
         "scale": {"domain": ["VASP 5.4 (LDA)","VASP 5.4 (PBE)","Jiang (12)","Starikov (18)","Devanathan (98)","Erhart SIIICS (05)","Munetoh (07)","Tersoff CSi (89)","Tersoff GeSi (89)","Balamane (92)","Hauch (99)","Mistriotis (89)","Exp."],
                   "range": ["#1f6fb4","#17becf","#d62728","#ff9896","#0000ff","#c7c7c7","#ffa500","#2ca02c","#e377c2","#bcbd22","#90ee90","#7f7f7f","#000000"]},
         "legend": {"title": null, "legendX": 131, "legendY": 1.7, "rowPadding": 2.87, "padding": 2.25,
           "encode": {"symbols": {"update": {
             "shape": {"signal": "datum.value === 'Exp.' ? 'circle' : 'stroke'"},
             "size": {"signal": "datum.value === 'Exp.' ? 16 : 256"},
             "fill": {"signal": "datum.value === 'Exp.' ? '#000000' : 'transparent'"},
             "strokeWidth": {"signal": "indexof(['VASP 5.4 (LDA)','VASP 5.4 (PBE)'], datum.value) >= 0 ? 2.5 : (indexof(['Tersoff GeSi (89)','Starikov (18)'], datum.value) >= 0 ? 1.9 : 1.3)"}}}}}},
       "strokeDash": {"field": "m", "type": "nominal",
         "scale": {"domain": ["VASP 5.4 (LDA)","VASP 5.4 (PBE)","Jiang (12)","Starikov (18)","Devanathan (98)","Erhart SIIICS (05)","Munetoh (07)","Tersoff CSi (89)","Tersoff GeSi (89)","Balamane (92)","Hauch (99)","Mistriotis (89)","Exp."],
                   "range": [[1,0],[1,0],[1,0],[1,0],[1.3,1.7],[1.3,1.7],[1.3,1.7],[1,0],[1,0],[4,2],[4,2],[4,2],[1,0]]},
         "legend": {"title": null}},
       "strokeWidth": {"condition": {"test": "indexof(['VASP 5.4 (LDA)','VASP 5.4 (PBE)'], datum.m) >= 0", "value": 2.5}, "value": 1.2}
     }},
    {"transform": [{"filter": "datum.m === 'Exp.'"}],
     "mark": {"type": "circle", "color": "#000000", "size": 16, "opacity": 1},
     "encoding": {"x": {"field": "T", "type": "quantitative"}, "y": {"field": "v", "type": "quantitative"}}}
  ]
}
]
}
